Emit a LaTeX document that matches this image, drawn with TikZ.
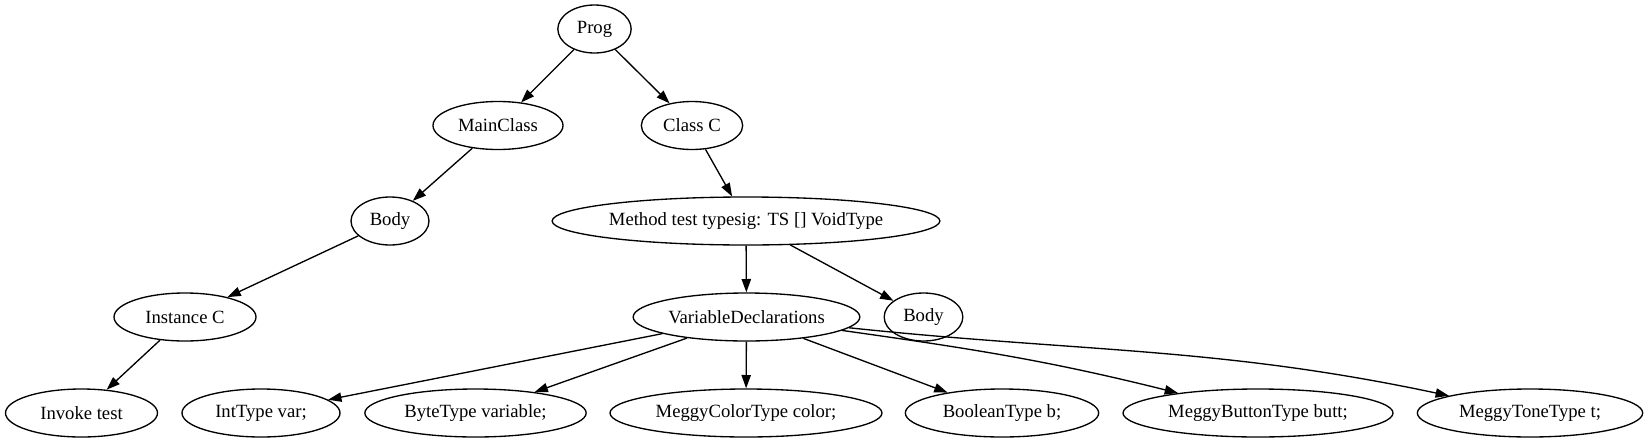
\documentclass[tikz,border=0pt]{standalone}
\usepackage{fontspec}
\setmainfont{Liberation Serif}
\usetikzlibrary{shapes.geometric,arrows.meta}

\tikzset{
  ast/.style={draw, ellipse, inner sep=0pt, minimum height=36pt, line width=1pt,
    font=\fontsize{14}{16}\selectfont},
  edge/.style={-{Triangle[length=10pt,width=7pt]}, line width=1pt}
}

\begin{document}
\begin{tikzpicture}[x=0.75pt, y=-0.75pt]
    \useasboundingbox (0,0) rectangle (1648,443);

    % Nodes
    \node[ast, minimum width=55pt] (prog) at (594.5,29) {Prog};
    \node[ast, minimum width=97.5pt] (mainclass) at (498,125.5) {MainClass};
    \node[ast, minimum width=76pt] (classc) at (692,125.5) {Class C};
    \node[ast, minimum width=58.5pt] (body1) at (390,221) {Body};
    \node[ast, minimum width=283.5pt] (method) at (746,221) {Method test typesig: TS [] VoidType};
    \node[ast, minimum width=106.5pt] (instance) at (185,317) {Instance C};
    \node[ast, minimum width=170pt] (vardecl) at (746.5,317) {VariableDeclarations};
    \node[ast, minimum width=59pt] (body2) at (923.5,317) {Body};

    % Bottom row
    \node[ast, minimum width=114pt] (invoke) at (81.5,413) {Invoke test};
    \node[ast, minimum width=118.5pt] (inttype) at (261,413) {IntType var;};
    \node[ast, minimum width=166pt] (bytetype) at (475.5,413) {ByteType variable;};
    \node[ast, minimum width=204pt] (colortype) at (746,413) {MeggyColorType color;};
    \node[ast, minimum width=145pt] (booltype) at (1002,413) {BooleanType b;};
    \node[ast, minimum width=202.5pt] (buttontype) at (1258,413) {MeggyButtonType butt;};
    \node[ast, minimum width=169pt] (tonetype) at (1530,413) {MeggyToneType t;};

    % Connection
    \draw[edge] (prog) -- (mainclass);
    \draw[edge] (prog) -- (classc);
    \draw[edge] (mainclass) -- (body1);
    \draw[edge] (body1) -- (instance);
    \draw[edge] (instance) -- (invoke);
    \draw[edge] (classc) -- (method);
    \draw[edge] (method) -- (vardecl);
    \draw[edge] (method) -- (body2);
    \draw[edge] (vardecl) -- (inttype);
    \draw[edge] (vardecl) -- (bytetype);
    \draw[edge] (vardecl) -- (colortype);
    \draw[edge] (vardecl) -- (booltype);
    \draw[edge] (vardecl) to[out=-8, in=166] (buttontype);
    \draw[edge] (vardecl) to[out=-6, in=168] (tonetype);
  \end{tikzpicture}
\end{document}
